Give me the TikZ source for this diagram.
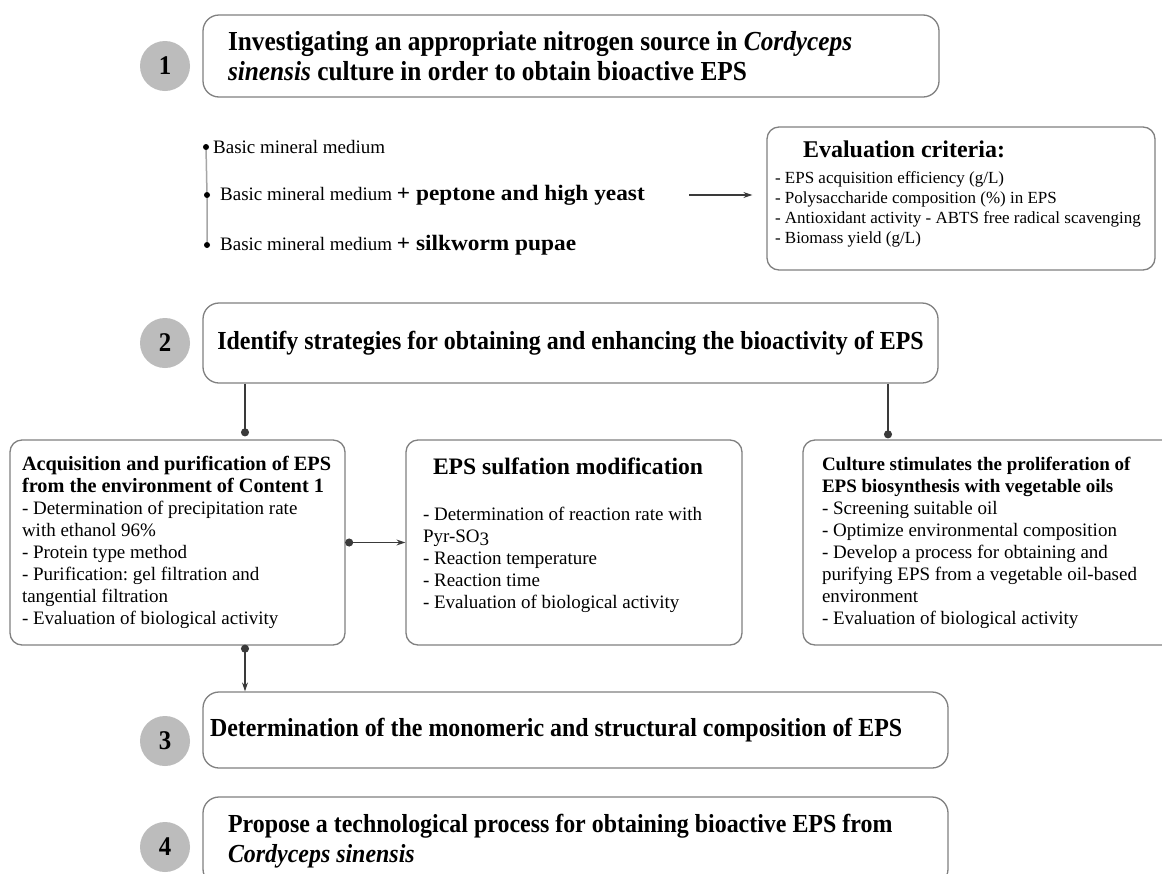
\documentclass[tikz,border=0pt]{standalone}
\usepackage{fontspec}
\setmainfont{Liberation Serif}
\newfontfamily\headfont[FakeStretch=0.92]{Liberation Serif}
\newfontfamily\widefont[FakeStretch=1.06]{Liberation Serif}
\usetikzlibrary{arrows.meta, calc}

\definecolor{boxgray}{HTML}{808080}
\definecolor{circgray}{HTML}{BCBCBC}
\definecolor{linegray}{HTML}{3A3A3A}
\frenchspacing

\begin{document}
\begin{tikzpicture}[x=1pt, y=-1pt,
    stepbox/.style={rectangle, rounded corners=16pt, draw=boxgray, line width=1.3pt, align=flush left, font=\headfont\bfseries\fontsize{26}{30}\selectfont},
    infobox/.style={rectangle, rounded corners=12pt, draw=boxgray, line width=1.3pt, align=flush left, font=\fontsize{19}{22}\selectfont},
    numcirc/.style={circle, fill=circgray, minimum size=50pt, inner sep=0pt, font=\headfont\bfseries\fontsize{27}{27}\selectfont},
    dotmark/.style={circle, fill=black, minimum size=6pt, inner sep=0pt},
    item/.style={anchor=west, inner sep=0pt, font=\fontsize{19}{22}\selectfont},
    link/.style={-{Circle[length=8pt]}, line width=1.1pt, draw=linegray},
    arr/.style={-{Stealth[length=9pt, width=6pt]}, line width=1.1pt, draw=linegray}
]
    \clip (0,0) rectangle (1162,873);
    \fill[white] (0,0) rectangle (1162,873);

    % step 1
    \node[numcirc] (n1) at (165,66) {1};
    \node[stepbox, minimum width=736pt, minimum height=82pt, inner xsep=25pt, text width=686pt, font=\headfont\bfseries\fontsize{27.5}{30}\selectfont] (s1) at (571,56)
        {Investigating an appropriate nitrogen source in \textit{Cordyceps}\\\textit{sinensis} culture in order to obtain bioactive EPS};

    % nitrogen sources
    \node[dotmark] (d1) at (206,147) {};
    \node[dotmark] (d2) at (207,195) {};
    \node[dotmark] (d3) at (207,245) {};
    \draw[gray!70, line width=1.5pt] (d1) -- (d2) -- (d3);
    \node[item] (m1) at (213,147) {Basic mineral medium};
    \node[item] (m2) at (220,195) {Basic mineral medium {\widefont\bfseries\fontsize{22}{22}\selectfont + peptone and high yeast}};
    \node[item] (m3) at (220,245) {Basic mineral medium {\widefont\bfseries\fontsize{22}{22}\selectfont + silkworm pupae}};

    \node[infobox, minimum width=388pt, minimum height=143pt, inner xsep=8pt, text width=372pt, font=\fontsize{17}{20}\selectfont] (eval) at (961,198.5)
        {\hspace*{28pt}\textbf{\fontsize{24}{20}\selectfont Evaluation criteria:}\\[6pt]
         - EPS acquisition efficiency (g/L)\\
         - Polysaccharide composition (\%) in EPS\\
         - Antioxidant activity - ABTS free radical scavenging\\
         - Biomass yield (g/L)\\[-8pt]\mbox{}};
    \draw[arr] ([xshift=44pt]m2.east) -- ($(eval.west |- m2.east)+(-14,0)$);

    % step 2
    \node[numcirc] (n2) at (165,343) {2};
    \node[stepbox, minimum width=735pt, minimum height=80pt, align=center] (s2) at (570.5,343)
        {Identify strategies for obtaining and enhancing the bioactivity of EPS};

    \node[infobox, minimum width=335pt, minimum height=205pt, inner xsep=12pt, text width=311pt] (pa) at (177.5,542.5)
        {\textbf{\fontsize{20.3}{22}\selectfont Acquisition and purification of EPS}\\
         \textbf{\fontsize{20.3}{22}\selectfont from the environment of Content 1}\\
         - Determination of precipitation rate\\
         with ethanol 96\%\\
         - Protein type method\\
         - Purification: gel filtration and\\
         tangential filtration\\
         - Evaluation of biological activity};
    \node[infobox, minimum width=336pt, minimum height=205pt, inner xsep=17pt, text width=302pt] (pb) at (574,542.5)
        {\hspace*{10pt}\textbf{\fontsize{23.6}{22}\selectfont EPS sulfation modification}\\[24pt]
         - Determination of reaction rate with\\
         Pyr-SO\raisebox{-3pt}{3}\\
         - Reaction temperature\\
         - Reaction time\\
         - Evaluation of biological activity\\[-4pt]\mbox{}};
    \node[infobox, minimum width=377pt, minimum height=205pt, inner xsep=19pt, text width=339pt] (pc) at (991.5,542.5)
        {\textbf{\fontsize{19}{22}\selectfont Culture stimulates the proliferation of}\\
         \textbf{\fontsize{19}{22}\selectfont EPS biosynthesis with vegetable oils}\\
         - Screening suitable oil\\
         - Optimize environmental composition\\
         - Develop a process for obtaining and\\
         purifying EPS from a vegetable oil-based\\
         environment\\
         - Evaluation of biological activity};

    \draw[link] ([xshift=-325.5pt]s2.south) -- ([xshift=67.5pt,yshift=3pt]pa.north);
    \draw[link] ([xshift=317.5pt]s2.south) -- ([xshift=-103.5pt,yshift=1pt]pc.north);
    \draw[arr, {Circle[length=8pt]}-{Stealth[length=9pt, width=6pt]}] ([xshift=-0.5pt]pa.east) -- (pb.west);

    % step 3
    \node[numcirc] (n3) at (165,741) {3};
    \node[stepbox, minimum width=745pt, minimum height=76pt, inner xsep=7pt, text width=731pt] (s3) at (575.5,730)
        {Determination of the monomeric and structural composition of EPS};
    \draw[arr, {Circle[length=8pt]}-{Stealth[length=9pt, width=6pt]}] ([xshift=67.5pt,yshift=1pt]pa.south) -- ([xshift=-330.5pt]s3.north);

    % step 4
    \node[numcirc] (n4) at (165,847) {4};
    \node[stepbox, minimum width=745pt, minimum height=88pt, inner xsep=25pt, text width=695pt] (s4) at (575.5,841)
        {Propose a technological process for obtaining bioactive EPS from\\\textit{Cordyceps sinensis}};
\end{tikzpicture}
\end{document}
